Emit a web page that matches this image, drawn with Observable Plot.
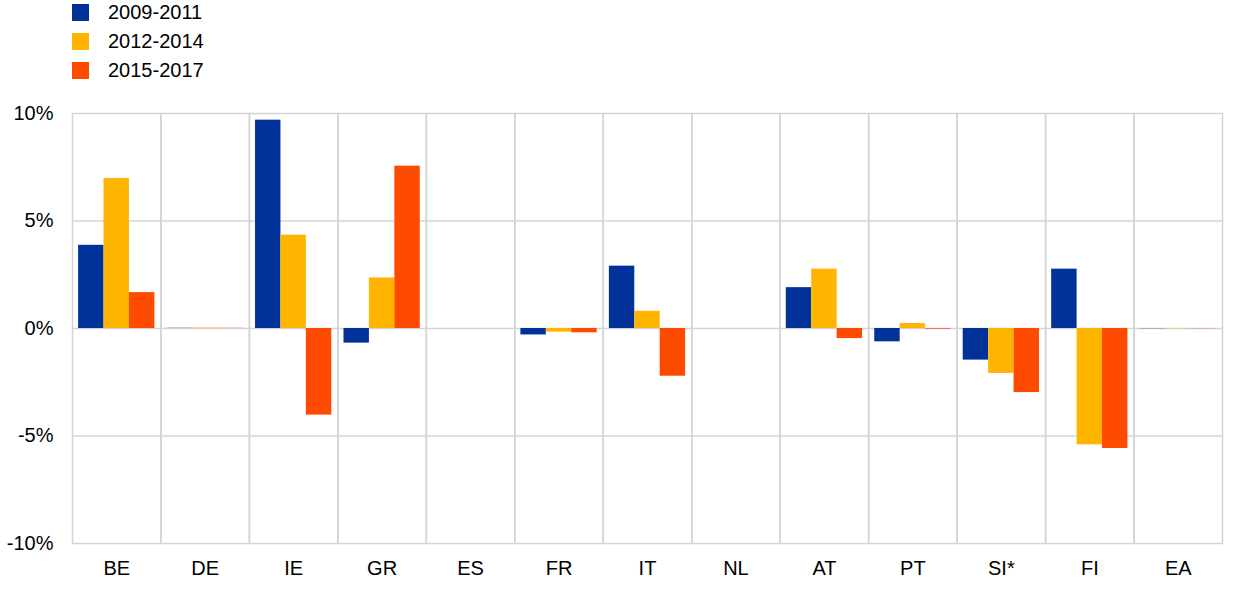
<!DOCTYPE html>
<html>
<head>
<meta charset="utf-8">
<script src="https://cdn.jsdelivr.net/npm/d3@7"></script>
<script src="https://cdn.jsdelivr.net/npm/@observablehq/plot@0.6"></script>
<style>
  html, body { margin: 0; padding: 0; background: #fff; }
  body { width: 1240px; height: 589px; overflow: hidden; font-family: "Liberation Sans", Arial, sans-serif; }
  #legend { position: relative; height: 90px; }
  .item { position: absolute; left: 72px; height: 18px; display: flex; align-items: center; font-size: 20px; color: #000; }
  .sw { width: 17px; height: 17px; margin-right: 19px; }
  #chart svg text { font-size: 20px; }
</style>
</head>
<body>
<div id="legend"></div>
<div id="chart"></div>
<script>
const countries = ["BE", "DE", "IE", "GR", "ES", "FR", "IT", "NL", "AT", "PT", "SI*", "FI", "EA"];
const periods = ["2009-2011", "2012-2014", "2015-2017"];
const colors = ["#003299", "#FFB400", "#FF4B00"];
const v2009_2011 = [3.87, 0.01, 9.69, -0.68, 0, -0.30, 2.90, 0, 1.90, -0.62, -1.47, 2.76, -0.01];
const v2012_2014 = [6.98, 0.02, 4.34, 2.35, 0, -0.17, 0.80, 0, 2.76, 0.23, -2.09, -5.41, -0.01];
const v2015_2017 = [1.67, 0.01, -4.03, 7.55, 0, -0.20, -2.22, 0, -0.47, -0.03, -2.98, -5.58, -0.01];
const yTicks = [-10, -5, 0, 5, 10];
const gridY = [-5, 0, 5];

const series = [v2009_2011, v2012_2014, v2015_2017];
const data = [];
countries.forEach((c, i) => periods.forEach((p, j) => data.push({country: c, period: p, value: series[j][i]})));

// legend
const legend = document.getElementById("legend");
periods.forEach((p, j) => {
  const d = document.createElement("div");
  d.className = "item";
  d.style.top = (3 + j * 29) + "px";
  d.innerHTML = `<span class="sw" style="background:${colors[j]}"></span><span>${p}</span>`;
  legend.appendChild(d);
});

const chart = Plot.plot({
  width: 1240,
  height: 499,
  marginTop: 23,
  marginBottom: 46,
  marginLeft: 72,
  marginRight: 18,
  style: {fontFamily: "'Liberation Sans', Arial, sans-serif", fontSize: "20px", color: "#000", background: "#fff"},
  fx: {domain: countries, padding: 0, round: false, label: null, axis: "bottom", tickSize: 0, tickPadding: 17},
  x: {domain: periods, axis: null, round: false, paddingInner: 0, paddingOuter: 0.24},
  y: {domain: [-10, 10], ticks: yTicks, tickFormat: d => d + "%", tickSize: 0, tickPadding: 19, label: null},
  color: {domain: periods, range: colors},
  marks: [
    Plot.ruleY(gridY, {stroke: "#d4d4d4", strokeWidth: 1.5}),
    Plot.frame({stroke: "#d4d4d4", strokeWidth: 1.5}),
    Plot.barY(data, {fx: "country", x: "period", y: "value", fill: "period", insetLeft: 0, insetRight: 0})
  ]
});
document.getElementById("chart").appendChild(chart);
</script>
</body>
</html>
